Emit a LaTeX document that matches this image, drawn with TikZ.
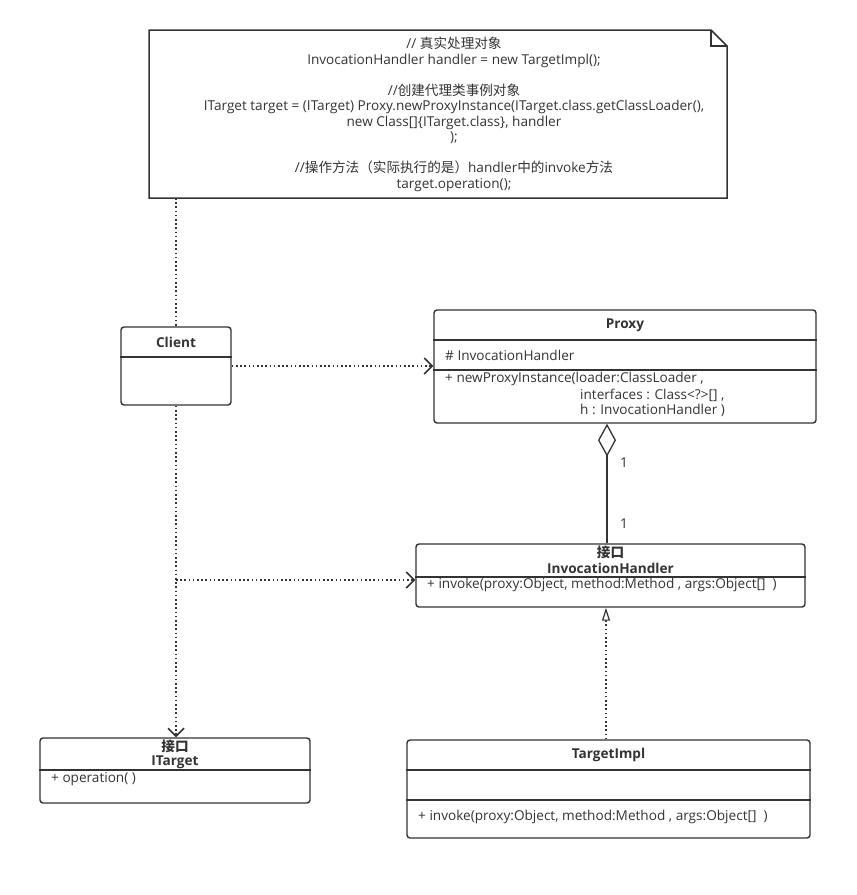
\documentclass[tikz,border=0pt]{standalone}
\usepackage{fontspec}
\setmainfont{Open Sans}
\newfontfamily\cjk{Noto Sans CJK SC}
\usetikzlibrary{arrows.meta}

\definecolor{umlink}{HTML}{333333}

\tikzset{
  umlbox/.style={draw=umlink, line width=1.4pt, rounded corners=3pt, inner sep=0pt},
  divider/.style={draw=umlink, line width=1.4pt},
  umltext/.style={text=umlink, inner sep=0pt, font=\fontsize{13.6pt}{15.5pt}\selectfont},
  umltitle/.style={umltext, font=\fontsize{13.6pt}{15.5pt}\selectfont\bfseries},
  dep/.style={draw=umlink, line width=1.6pt, dash pattern=on 1.6pt off 2.6pt,
    -{Straight Barb[length=8pt, width=16pt, line width=1.5pt]}},
  depline/.style={draw=umlink, line width=1.6pt, dash pattern=on 1.6pt off 2.6pt},
  real/.style={draw=umlink, line width=1.6pt, dash pattern=on 1.6pt off 2.6pt,
    -{Triangle[open, length=13pt, width=8pt, line width=1.2pt, fill=white]}},
  agg/.style={draw=umlink, line width=1.4pt,
    -{Diamond[open, length=33pt, width=18pt, line width=1.3pt, fill=white]}},
}

\begin{document}
\begin{tikzpicture}[x=1pt, y=-1pt]
\useasboundingbox (0,0) rectangle (857,895);

% note
\draw[umlink, line width=1.5pt] (149,30) -- (711,30) -- (727,46) -- (727,198) -- (149,198) -- cycle;
\draw[umlink, line width=1.5pt] (711,30) -- (711,46) -- (727,46);
\node[umltext, align=center] (notetext) at (454,114.5) {%
  // {\cjk 真实处理对象}\\
  InvocationHandler handler = new TargetImpl();\\[15.5pt]
  //{\cjk 创建代理类事例对象}\\
  ITarget target = (ITarget) Proxy.newProxyInstance(ITarget.class.getClassLoader(),\\
  new Class[]\{ITarget.class\}, handler\\
  );\\[15.5pt]
  //{\cjk 操作方法（实际执行的是）}handler{\cjk 中的}invoke{\cjk 方法}\\
  target.operation();};
\coordinate (notebottom) at (176,198);

% Client
\node[umlbox, minimum width=110pt, minimum height=78pt] (client) at (176,366) {};
\draw[divider] (client.west |- 0,357) -- (client.east |- 0,357);
\node[umltitle] (clientname) at (176,342) {Client};

% Proxy
\node[umlbox, minimum width=382pt, minimum height=113pt] (proxy) at (625,366.5) {};
\draw[divider] (proxy.west |- 0,340) -- (proxy.east |- 0,340);
\draw[divider] (proxy.west |- 0,370) -- (proxy.east |- 0,370);
\node[umltitle] (proxyname) at (625,325) {Proxy};
\node[umltext, anchor=west] (proxyattr) at (445,355) {\# InvocationHandler};
\node[umltext, anchor=west] (proxyop1) at (445,379) {+ newProxyInstance(loader:ClassLoader ,};
\node[umltext, anchor=west] (proxyop2) at (580,395) {interfaces : Class<?>[] ,};
\node[umltext, anchor=west] (proxyop3) at (580,410) {h : InvocationHandler )};

% InvocationHandler
\node[umlbox, minimum width=389pt, minimum height=63pt] (ihandler) at (610.5,575.5) {};
\draw[divider] (ihandler.west |- 0,577) -- (ihandler.east |- 0,577);
\node[umltitle] (ihstereo) at (610.5,552) {\cjk\bfseries 接口};
\node[umltitle] (ihname) at (610.5,568) {InvocationHandler};
\node[umltext, anchor=west] (ihop) at (427,585) {+ invoke(proxy:Object, method:Method , args:Object[]\ \ )};

% ITarget
\node[umlbox, minimum width=270pt, minimum height=65pt] (itarget) at (175,770.5) {};
\draw[divider] (itarget.west |- 0,770) -- (itarget.east |- 0,770);
\node[umltitle] (itstereo) at (175,746) {\cjk\bfseries 接口};
\node[umltitle] (itname) at (175,762) {ITarget};
\node[umltext, anchor=west] (itop) at (51,779) {+ operation( )};

% TargetImpl
\node[umlbox, minimum width=403pt, minimum height=98pt] (timpl) at (608.5,789) {};
\draw[divider] (timpl.west |- 0,770) -- (timpl.east |- 0,770);
\draw[divider] (timpl.west |- 0,800) -- (timpl.east |- 0,800);
\node[umltitle] (timplname) at (608.5,755) {TargetImpl};
\node[umltext, anchor=west] (timplop) at (418,817) {+ invoke(proxy:Object, method:Method , args:Object[]\ \ )};

% connectors
\coordinate (fork) at (176,580);
\coordinate (aggx) at (607,0);
\coordinate (realx) at (606,0);
\draw[depline] (notebottom) -- (client.north);
\draw[dep] (client.east) -- (proxy.west |- client.east);
\draw[dep] (client.south) -- (itarget.north -| client.south);
\draw[dep] (fork) -- (ihandler.west |- fork);
\draw[agg] (ihandler.north -| aggx) -- (proxy.south -| aggx);
\node[umltext] (mult1) at (624,463) {1};
\node[umltext] (mult2) at (624,524) {1};
\draw[real] (timpl.north -| realx) -- (ihandler.south -| realx);
\end{tikzpicture}
\end{document}
